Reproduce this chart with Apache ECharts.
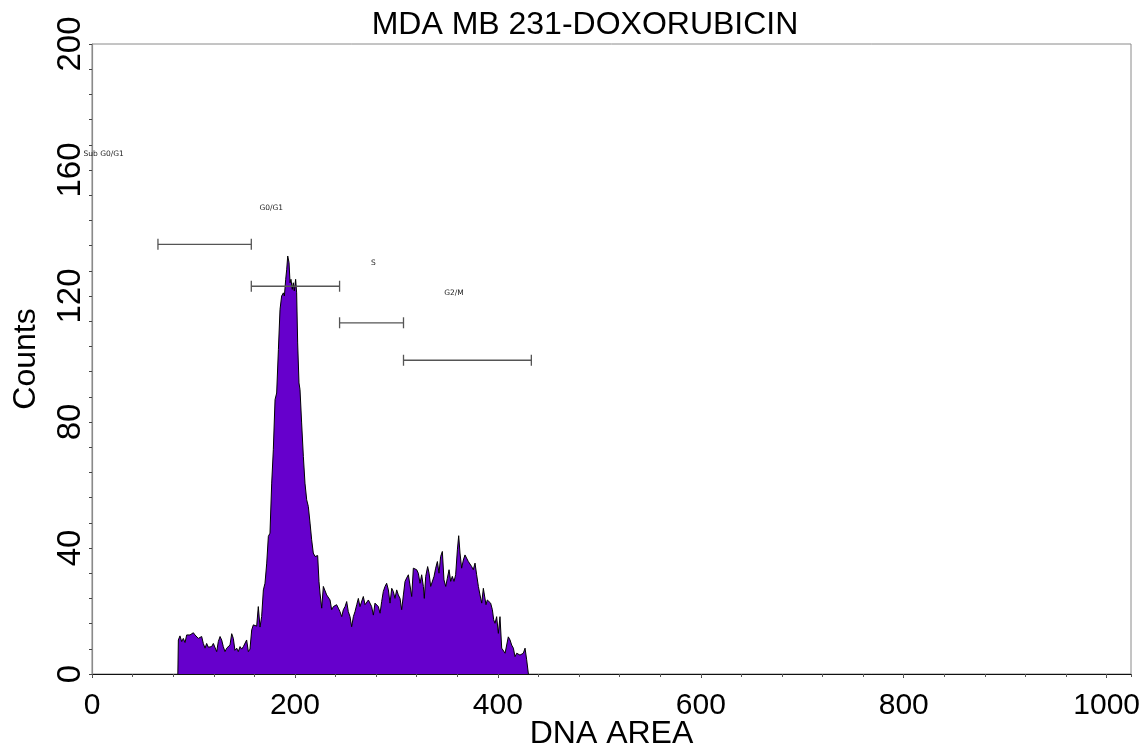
<!DOCTYPE html>
<html><head><meta charset="utf-8">
<script src="https://cdn.jsdelivr.net/npm/echarts@6/dist/echarts.min.js"></script>
<style>html,body{margin:0;padding:0;background:#fff}#c{width:1145px;height:748px}</style>
</head><body><div id="c"></div>
<script>
const dnaArea = [84.6,85.1,86.7,88.4,90.0,91.7,93.3,94.9,96.6,98.2,99.9,101.5,103.2,104.8,106.4,108.1,109.7,111.4,113.0,114.7,116.3,117.9,119.6,121.2,122.9,124.5,126.2,127.8,129.4,131.1,132.7,134.4,136.0,137.7,139.3,140.9,142.6,144.2,145.9,147.5,149.2,150.8,152.4,154.1,155.7,157.4,159.0,160.7,162.3,163.9,165.6,167.2,168.9,170.5,172.2,173.8,175.4,177.1,178.7,180.4,182.0,183.7,185.3,186.9,188.6,189.6,190.9,191.9,192.9,194.2,195.2,196.1,197.4,198.4,199.4,200.7,201.7,202.7,204.0,205.0,206.6,208.3,209.9,211.6,213.2,214.9,216.5,218.1,219.8,221.4,222.4,223.7,224.7,226.4,228.0,229.6,231.3,232.9,234.6,236.2,237.9,239.5,241.1,242.8,244.4,246.1,247.7,249.4,251.0,252.6,254.3,255.9,257.6,259.2,260.9,262.5,264.1,265.8,267.4,269.1,270.7,272.4,274.0,275.6,277.3,278.9,280.6,282.2,283.9,285.5,287.1,288.8,290.4,292.1,293.7,295.4,297.0,298.6,300.3,301.9,303.6,305.2,306.9,308.5,310.1,311.8,313.4,315.1,316.7,318.4,320.0,321.6,323.3,324.9,326.6,327.5,328.9,330.8,332.2,333.8,335.4,337.1,338.7,340.4,342.0,343.6,345.3,346.9,348.6,350.2,351.9,353.5,355.1,356.8,358.4,360.1,361.4,362.7,364.3,366.0,367.6,369.3,370.9,372.6,374.2,375.8,377.5,379.1,380.8,382.4,384.1,385.7,387.3,388.3,389.6,391.3,392.9,394.6,395.9,397.2,398.8,400.5,402.1,403.8,405.4,407.1,408.7,410.3,412.0,413.6,415.3,416.9,418.6,420.2,421.8,423.5,425.1,426.8,428.4,430.1];
const counts = [0,10.8,12.1,10.3,11.3,10.0,12.4,12.1,12.4,12.4,13.1,12.4,11.9,11.3,10.8,11.9,9.7,8.2,9.7,8.5,8.9,8.7,9.7,9.2,7.1,10.3,11.9,10.8,8.7,7.1,8.2,7.9,9.2,12.8,11.3,7.5,8.2,7.1,8.7,7.9,8.7,8.2,10.8,7.1,7.9,14.0,15.6,15.0,15.2,21.4,14.9,18.2,26.7,28.8,35.2,43.7,44.7,60.6,71.2,87.1,89.2,103,115.7,120,121,120,125.3,128.5,132.7,130.6,124.2,125.3,122.1,124.2,121.6,125.3,121,105.1,92.4,90.3,79.7,69.1,60.6,55.3,53.2,47.9,42.6,38.4,37.3,37.0,37.6,29.4,25.7,20.9,27.8,27.8,25.1,24.6,23.5,20.4,21.4,22,22,20.9,19.8,18.2,20.4,21.4,23,19.8,18.2,15.0,18.2,19.8,22,24,21.4,22,24.6,22,22.5,23.5,22.5,21.4,18.7,22.5,23,21.4,19.3,23,26.2,27.8,28.8,26.7,22.5,27.2,26.2,24,26.7,25.1,24,20.4,25.1,29.4,30.5,31.5,32,24.6,33.6,33.1,33.1,32,28.8,31.5,27.8,24,31,34.1,32,27.8,28.3,31,33.6,35.7,32,37.3,38.9,29.9,27.8,30.4,33.1,29.4,31,29.4,31.5,39.4,43.9,38.4,33.6,36.2,37.8,37.3,35.7,36.2,34.1,33.1,35.2,31.5,27.8,25.1,22.5,27.2,27.7,22,23.5,23,22.5,20.4,17.2,16.1,18.2,12.9,18.2,8.2,7.6,6.6,9.2,11.8,10.8,9.2,8.2,5.5,6.6,7.1,6.0,5.5,6.6,8.2,4.5,0];

const gateNames = ['Sub G0/G1', 'G0/G1', 'S', 'G2/M'];
const gateStart = [65, 157, 244, 307];
const gateEnd = [157, 244, 307, 433];
const gateLevel = [136.4, 123.1, 111.5, 99.6];
const gateLabelX = [11.5, 176.7, 277.3, 356.8];
const gateLabelY = [165.2, 148, 130.6, 121];

const FONT = "'Liberation Sans',Arial,sans-serif";

const chart = echarts.init(document.getElementById('c'), null, {renderer: 'canvas'});
chart.setOption({
  animation: false,
  backgroundColor: '#fff',
  title: {
    text: 'MDA MB 231-DOXORUBICIN',
    left: 580, top: 4, textAlign: 'center',
    textStyle: {fontFamily: FONT, fontSize: 32, fontWeight: 'normal', color: '#000'}
  },
  grid: {left: 92, right: 14, top: 44, bottom: 74, show: true, borderColor: '#8a8a8a', borderWidth: 1,
         backgroundColor: 'transparent', containLabel: false, outerBoundsMode: 'none'},
  xAxis: [{
    type: 'value', min: 0, max: 1024, interval: 200, position: 'bottom',
    name: 'DNA AREA', nameLocation: 'middle', nameGap: 44, nameMoveOverlap: false,
    nameTextStyle: {fontFamily: FONT, fontSize: 32, color: '#000'},
    axisLine: {lineStyle: {color: '#111', width: 1.2}},
    axisTick: {length: 4, lineStyle: {color: '#444'}},
    axisLabel: {fontFamily: FONT, fontSize: 30, color: '#000', margin: 17, showMaxLabel: false,
                formatter: v => String(v)},
    splitLine: {show: false}
  }, {
    type: 'value', min: 0, max: 1024, interval: 40, position: 'bottom', offset: 0,
    axisLine: {show: false},
    axisTick: {length: 3, lineStyle: {color: '#555'}},
    axisLabel: {show: false},
    splitLine: {show: false}
  }],
  yAxis: {
    type: 'value', min: 0, max: 200, interval: 40,
    name: 'Counts', nameLocation: 'middle', nameGap: 50, nameMoveOverlap: false,
    nameTextStyle: {fontFamily: FONT, fontSize: 32, color: '#000'},
    axisLine: {lineStyle: {color: '#8a8a8a', width: 1.2}},
    axisTick: {length: 3, lineStyle: {color: '#444'}},
    minorTick: {show: true, splitNumber: 5, length: 3, lineStyle: {color: '#444'}},
    axisLabel: {fontFamily: FONT, fontSize: 33, color: '#000', rotate: 90, margin: 5,
                formatter: v => String(v)},
    splitLine: {show: false}
  },
  series: [{
    type: 'line',
    data: dnaArea.map((x, i) => [x, counts[i]]),
    symbol: 'none',
    lineStyle: {color: '#000', width: 1},
    areaStyle: {color: '#6600cc', opacity: 1},
    z: 2
  }, {
    type: 'custom',
    z: 5,
    data: gateNames.map((n, i) => [gateStart[i], gateEnd[i], gateLevel[i], gateLabelX[i], gateLabelY[i]]),
    encode: {x: [0, 1, 3], y: [2, 4]},
    renderItem: function (params, api) {
      const a = api.coord([api.value(0), api.value(2)]);
      const b = api.coord([api.value(1), api.value(2)]);
      const lab = api.coord([api.value(3), api.value(4)]);
      const h = 5.5;
      const st = {stroke: '#555', lineWidth: 1.3};
      return {type: 'group', children: [
        {type: 'line', shape: {x1: a[0], y1: a[1], x2: b[0], y2: b[1]}, style: st},
        {type: 'line', shape: {x1: a[0], y1: a[1] - h, x2: a[0], y2: a[1] + h}, style: st},
        {type: 'line', shape: {x1: b[0], y1: b[1] - h, x2: b[0], y2: b[1] + h}, style: st},
        {type: 'text', x: lab[0], y: lab[1], style: {text: gateNames[params.dataIndex], fontSize: 7.5, fontFamily: "'DejaVu Sans',sans-serif", fill: '#222', align: 'center', verticalAlign: 'middle'}}
      ]};
    }
  }]
});
</script>
</body></html>
